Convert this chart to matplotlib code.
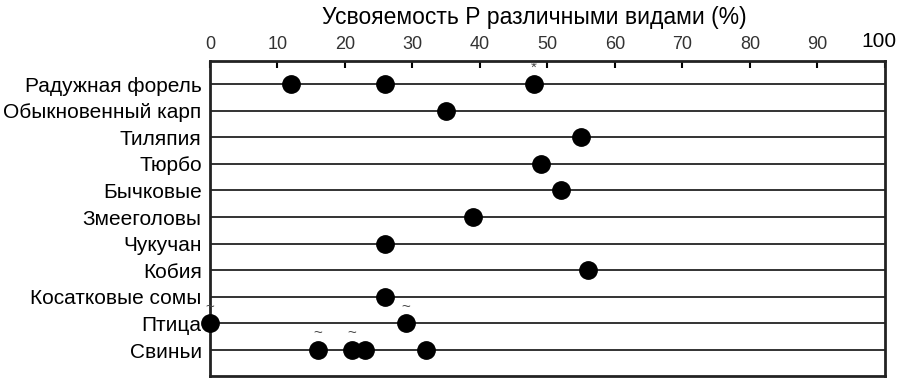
import matplotlib.pyplot as plt

species = ['Радужная форель', 'Обыкновенный карп', 'Тиляпия', 'Тюрбо', 'Бычковые',
           'Змееголовы', 'Чукучан', 'Кобия', 'Косатковые сомы', 'Птица', 'Свиньи']
values = [[12, 26, 48], [35], [55], [49], [52], [39], [26], [56], [26], [0, 29],
          [16, 21, 23, 32]]
notes = [['', '', '*'], [''], [''], [''], [''], [''], [''], [''], [''], ['~', '~'],
         ['~', '~', '', '']]
xticks = [0, 10, 20, 30, 40, 50, 60, 70, 80, 90, 100]

plt.rcParams['font.family'] = ['Liberation Sans', 'DejaVu Sans']

fig = plt.figure(figsize=(9, 3.82), dpi=100)
ax = fig.add_axes([0.2333, 0.0157, 0.75, 0.8246])

for i, (vals, marks) in enumerate(zip(values, notes)):
    ax.plot([0, 100], [i, i], color='#333333', lw=1.4, zorder=1)
    ax.plot(vals, [i] * len(vals), 'o', color='black', ms=12.5, zorder=3, clip_on=False)
    for v, m in zip(vals, marks):
        if m:
            ax.text(v, i - 0.36, m, ha='center', va='bottom', fontsize=11, color='#444444')

ax.set_xlim(0, 100)
ax.set_ylim(len(species) - 1 + 0.977, -0.865)
ax.xaxis.tick_top()
ax.set_xticks(xticks)
ax.set_xticklabels([str(t) for t in xticks[:-1]] + [''], fontsize=13, color='#333333')
# the last label is bigger in the original and sits at the figure edge
ax.annotate(str(xticks[-1]), xy=(xticks[-1], 1), xycoords=ax.get_xaxis_transform(),
            xytext=(-4, 7), textcoords='offset points', ha='center', va='bottom',
            fontsize=15)
ax.tick_params(axis='x', direction='in', length=5, width=1.5, pad=6)
ax.set_yticks(range(len(species)))
ax.set_yticklabels(species, fontsize=15)
ax.tick_params(axis='y', length=0, pad=6)
for s in ax.spines.values():
    s.set_linewidth(2)
    s.set_color('#222222')

fig.text(0.594, 0.925, 'Усвояемость Р различными видами (%)', ha='center', va='bottom',
         fontsize=16.5)

fig.savefig('out.png', dpi=100)
